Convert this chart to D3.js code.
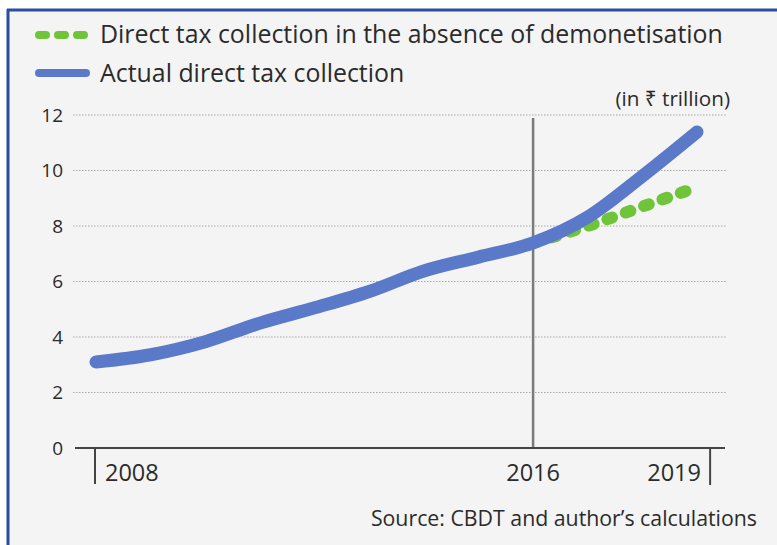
<!DOCTYPE html>
<html>
<head>
<meta charset="utf-8">
<script src="https://cdn.jsdelivr.net/npm/d3@7"></script>
<style>
  body { margin: 0; background: #fff; }
  text { font-family: "Open Sans", "Noto Sans", sans-serif; fill: #2b2b2b; }
</style>
</head>
<body>
<script>
// Chart data
const years = [2008, 2009, 2010, 2011, 2012, 2013, 2014, 2015, 2016, 2017, 2018, 2019]
const actual = [3.1, 3.36, 3.83, 4.5, 5.05, 5.64, 6.38, 6.88, 7.39, 8.32, 9.8, 11.39]
const noDemoYears = [2016, 2017, 2018, 2019]
const noDemo = [7.39, 8.0, 8.7, 9.4]
const yTicks = [0, 2, 4, 6, 8, 10, 12]
const xLabels = [2008, 2016, 2019]
const legendLabels = ['Direct tax collection in the absence of demonetisation', 'Actual direct tax collection']

const width = 777
const height = 545
const blue = '#5b79c9'
const green = '#70c43a'

const svg = d3.select('body').append('svg')
  .attr('width', width)
  .attr('height', height)

// panel + frame
svg.append('rect').attr('x', 8).attr('y', 10).attr('width', width - 8).attr('height', height - 10).attr('fill', '#f4f4f4')
svg.append('line').attr('x1', 7).attr('x2', width).attr('y1', 10).attr('y2', 10).attr('stroke', '#2d4b9f').attr('stroke-width', 3)
svg.append('line').attr('x1', 8).attr('x2', 8).attr('y1', 9).attr('y2', height).attr('stroke', '#2d4b9f').attr('stroke-width', 3)

// scales
const x = d3.scaleLinear().domain([2008, 2019]).range([96, 697])
const y = d3.scaleLinear().domain([0, 12]).range([448, 115])

// gridlines
svg.append('g').selectAll('line').data(yTicks.filter(d => d > 0)).join('line')
  .attr('x1', 73).attr('x2', 727)
  .attr('y1', d => y(d)).attr('y2', d => y(d))
  .attr('stroke', '#a9a9a9').attr('stroke-width', 1).attr('stroke-dasharray', '1.5,1.5')

// y labels
svg.append('g').selectAll('text').data(yTicks).join('text')
  .attr('x', 63).attr('y', d => y(d))
  .attr('dy', '0.36em')
  .attr('text-anchor', 'end')
  .style('font-size', '19px')
  .text(d => d)

// 2016 marker
svg.append('line')
  .attr('x1', x(2016)).attr('x2', x(2016)).attr('y1', 118).attr('y2', y(0))
  .attr('stroke', '#7a7a7a').attr('stroke-width', 2.5)

// x axis line + end ticks
svg.append('line').attr('x1', 75).attr('x2', 725).attr('y1', y(0)).attr('y2', y(0))
  .attr('stroke', '#444').attr('stroke-width', 2)
svg.append('line').attr('x1', x(2008) - 1).attr('x2', x(2008) - 1).attr('y1', y(0)).attr('y2', 484)
  .attr('stroke', '#444').attr('stroke-width', 2)
svg.append('line').attr('x1', x(2019.24)).attr('x2', x(2019.24)).attr('y1', y(0)).attr('y2', 485)
  .attr('stroke', '#444').attr('stroke-width', 2)

// x labels
svg.append('g').selectAll('text').data(xLabels).join('text')
  .attr('x', d => d === 2008 ? x(d) + 9 : d === 2019 ? x(d) + 4 : x(d))
  .attr('y', 481)
  .attr('text-anchor', d => d === 2008 ? 'start' : d === 2019 ? 'end' : 'middle')
  .style('font-size', '23.5px')
  .text(d => d)

// lines
const line = d3.line().x(d => x(d[0])).y(d => y(d[1])).curve(d3.curveMonotoneX)

svg.append('path')
  .datum(noDemoYears.map((d, i) => [d, noDemo[i]]))
  .attr('d', line)
  .attr('fill', 'none').attr('stroke', green).attr('stroke-width', 12)
  .attr('stroke-linecap', 'round').attr('stroke-dasharray', '5,14.5')

svg.append('path')
  .datum(years.map((d, i) => [d, actual[i]]))
  .attr('d', line)
  .attr('fill', 'none').attr('stroke', blue).attr('stroke-width', 13)
  .attr('stroke-linecap', 'round').attr('stroke-linejoin', 'round')

// legend
const legend = svg.append('g')
legend.append('line').attr('x1', 39).attr('x2', 86).attr('y1', 35).attr('y2', 35)
  .attr('stroke', green).attr('stroke-width', 8).attr('stroke-linecap', 'round').attr('stroke-dasharray', '7,12')
legend.append('line').attr('x1', 39).attr('x2', 86).attr('y1', 73).attr('y2', 73)
  .attr('stroke', blue).attr('stroke-width', 8).attr('stroke-linecap', 'round')
legend.selectAll('text').data(legendLabels).join('text')
  .attr('x', 100).attr('y', (d, i) => 43 + i * 39)
  .style('font-size', '24.9px')
  .text(d => d)

// unit + source
svg.append('text').attr('x', 730).attr('y', 106).attr('text-anchor', 'end')
  .style('font-size', '20.7px').text('(in ₹ trillion)')
svg.append('text').attr('x', 757).attr('y', 526).attr('text-anchor', 'end')
  .style('font-size', '21.3px').text('Source: CBDT and author’s calculations')
</script>
</body>
</html>
